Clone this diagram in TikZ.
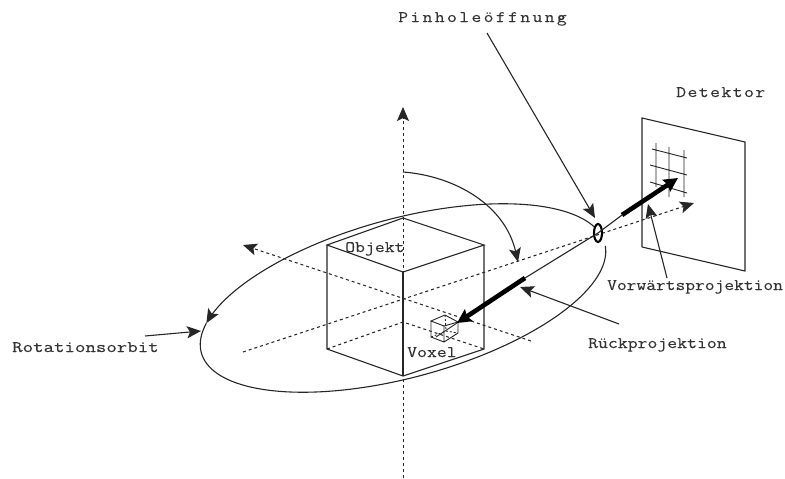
\documentclass[tikz,border=0pt]{standalone}
\usepackage{fontspec}
\setmonofont{Latin Modern Mono}
\usetikzlibrary{arrows.meta,shapes.geometric}
\newcommand{\labfont}[3]{\fontsize{#1}{#1}\selectfont\addfontfeature{FakeStretch=#2,LetterSpace=#3,FakeBold=0.2}}
\tikzset{
  x=1pt,y=-1pt,
  ink/.style={draw=black!85,line width=1.1pt},
  thin line/.style={draw=black!85,line width=0.9pt},
  dash line/.style={draw=black!85,line width=1.05pt,dash pattern=on 3pt off 3pt},
  tip/.style={-{Stealth[length=14pt,width=12pt,inset=3pt]}},
  heavy/.style={draw=black,line width=4.6pt,-{Stealth[length=14pt,width=14pt,inset=2pt]}},
  lab/.style={inner sep=0pt,anchor=base west,text=black!80}
}
\begin{document}
\begin{tikzpicture}
\useasboundingbox (0,0) rectangle (785,479);
% coordinates
\coordinate (axb) at (403,478); \coordinate (axt) at (403,107);
\coordinate (c) at (403,298);
\coordinate (xs) at (243,352); \coordinate (xe) at (694,203);
\coordinate (ys) at (243,245); \coordinate (ye) at (531,341);
\coordinate (t) at (403,218); \coordinate (l) at (327,245); \coordinate (r) at (484,245); \coordinate (f) at (403,272);
\coordinate (bf) at (403,376); \coordinate (bl) at (327,349); \coordinate (br) at (484,349); \coordinate (bb) at (403,322);
\coordinate (d1) at (642,118); \coordinate (d2) at (745,142); \coordinate (d3) at (745,271); \coordinate (d4) at (642,247);
% axes
\draw[dash line,line width=0.85pt,tip] (axb) -- (axt);
\draw[dash line,tip] (xs) -- (xe);
\draw[dash line,tip] (ye) -- (ys);
% cube
\draw[ink] (l) -- (t) -- (r) -- (f) -- cycle;
\draw[ink] (l) -- (bl) -- (bf) -- (br) -- (r);
\draw[ink] (f) -- (bf);
\draw[dash line] (bl) -- (bb) -- (br);
% orbit: rotated ellipse
\draw[ink,tip] plot[domain=-13:-160,samples=70] ({403+209*0.965*cos(\x)+79.5*0.262*sin(\x)},{298-209*0.262*cos(\x)+79.5*0.965*sin(\x)});
\draw[ink] plot[domain=200:2,samples=90] ({403+209*0.965*cos(\x)+79.5*0.262*sin(\x)},{298-209*0.262*cos(\x)+79.5*0.965*sin(\x)});
% angle arc
\coordinate (a0) at (403,172); \coordinate (a1) at (518,262);
\draw[ink,tip] (a0) .. controls (455,176) and (505,205) .. (a1);
% detector
\draw[ink] (d4) -- (d1) -- (d2) -- (d3) -- (d4);
\draw[thin line] (656,143)--(656,187) (669,147)--(669,197) (684,150)--(684,197)
  (652,149)--(687,158) (650,165)--(687,175) (650,182)--(687,193);
% voxel
\coordinate (v1) at (445,315); \coordinate (v2) at (431,321); \coordinate (v3) at (458,322); \coordinate (v4) at (444,326);
\coordinate (v5) at (431,337); \coordinate (v6) at (444,342); \coordinate (v7) at (458,333); \coordinate (v8) at (446,331);
\draw[thin line] (v2) -- (v1) -- (v3) -- (v4) -- cycle (v2) -- (v5) -- (v6) -- (v7) -- (v3) (v4) -- (v6);
\draw[thin line,dash pattern=on 2pt off 2pt] (v1) -- (v8) (v5) -- (v8) -- (v7);
% pinhole
\node[draw=black,line width=2.1pt,ellipse,minimum width=8pt,minimum height=18pt,inner sep=0pt] (ph) at (598,233) {};
% rays
\coordinate (fa) at (622,215); \coordinate (fb) at (678,178);
\coordinate (ra) at (525,278); \coordinate (rb) at (457,323); \coordinate (rc) at (436,337);
\draw[ink] (ph.center) -- (fa);
\draw[ink] (ph.center) -- (ra);
\draw[thin line] (rb) -- (rc);
\draw[heavy] (fa) -- (fb);
\draw[heavy] (ra) -- (rb);
% labels
\node[lab,font={\ttfamily\labfont{16}{1.2}{14.5}}] (lp) at (398,22) {Pinholeöffnung};
\node[lab,font={\ttfamily\labfont{16}{1.2}{8.9}}] (ld) at (676,97) {Detektor};
\node[lab,font={\ttfamily\labfont{16}{1.185}{0}}] (lv) at (607,290) {Vorwärtsprojektion};
\node[lab,font={\ttfamily\labfont{16}{1.2}{0}}] (lr) at (588,348) {Rückprojektion};
\node[lab,font={\ttfamily\labfont{16}{1.27}{0}}] (lo) at (12,352) {Rotationsorbit};
\node[lab,font={\ttfamily\labfont{16}{1.2}{0}}] (lob) at (345,252) {Objekt};
\node[lab,font={\ttfamily\labfont{16}{1.2}{0}}] (lvx) at (407,357) {Voxel};
% pointers
\coordinate (pa) at (487,33); \coordinate (pb) at (595,218);
\coordinate (va) at (667,278); \coordinate (vb) at (648,204);
\coordinate (wa) at (619,324); \coordinate (wb) at (520,287);
\coordinate (oa) at (145,336); \coordinate (ob) at (201,331);
\draw[ink,tip] (pa) -- (pb);
\draw[ink,tip] (va) -- (vb);
\draw[ink,tip] (wa) -- (wb);
\draw[ink,tip] (oa) -- (ob);
\end{tikzpicture}
\end{document}
